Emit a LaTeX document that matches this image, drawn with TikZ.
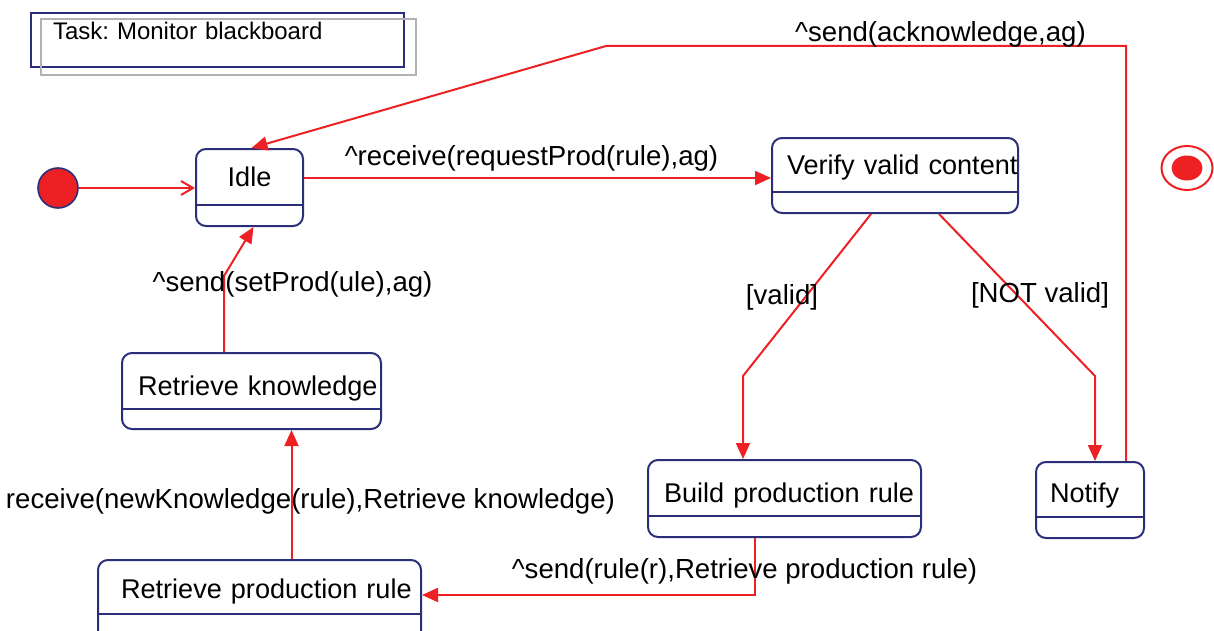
\documentclass[tikz,border=0pt]{standalone}
\usepackage{fontspec}
\setmainfont{Liberation Sans}
\usetikzlibrary{arrows.meta,shapes.geometric}
\frenchspacing

\definecolor{navy}{RGB}{43,47,122}
\definecolor{flowred}{RGB}{237,32,36}
\definecolor{shadowgray}{RGB}{178,178,178}

\newcommand{\labfont}{\fontsize{13.8}{16}\selectfont}
\newcommand{\statefont}{\fontsize{13.55}{16}\selectfont}

\tikzset{
  state/.style={draw=navy, line width=1pt, rounded corners=5pt, anchor=north west,
    inner ysep=0pt, inner xsep=8pt, align=left, font=\statefont},
  flow/.style={draw=flowred, line width=1pt, -{Triangle[length=8pt,width=7pt]}},
  lbl/.style={font=\labfont, inner sep=0pt, anchor=base},
}

\begin{document}
\begin{tikzpicture}[x=0.5pt, y=-0.5pt]
  \useasboundingbox (0,0) rectangle (1214,631);
  % task frame
  \node[draw=navy, line width=1pt, anchor=north west, inner ysep=0pt, inner xsep=11pt,
        text width=164.5pt, align=left, text height=13.5pt, text depth=13.5pt,
        font=\fontsize{12}{14}\selectfont] (task) at (30,12) {Task: Monitor blackboard};
  \draw[shadowgray, line width=1pt] ([xshift=5.5pt,yshift=-3.5pt]task.north west)
    rectangle ([xshift=5.5pt,yshift=-3.5pt]task.south east);
  %
  % pseudo states
  \node[circle, draw=navy, fill=flowred, line width=0.8pt, minimum size=20pt, inner sep=0pt] (init) at (58,188) {};
  \node[ellipse, draw=flowred, line width=1pt, minimum width=25.5pt, minimum height=22pt, inner sep=0pt] (final) at (1187,168) {};
  \node[ellipse, fill=flowred, minimum width=15.5pt, minimum height=12.5pt, inner sep=0pt] (finaldot) at (final) {};
  %
  % states
  \node[state, align=center, text width=37.5pt, text height=18.5pt, text depth=20pt] (idle) at (195,148) {Idle};
  \node[state, inner xsep=7.5pt, text width=108pt, text height=18pt, text depth=19.5pt] (verify) at (771,137) {\mbox{Verify valid content}};
  \node[state, text width=113.5pt, text height=21pt, text depth=17pt] (know) at (121,352) {\mbox{Retrieve knowledge}};
  \node[state, text width=120.5pt, text height=21pt, text depth=17.5pt] (build) at (647,459) {\mbox{Build production rule}};
  \node[state, inner xsep=7pt, text width=40pt, text height=20pt, text depth=18pt] (notify) at (1035,461) {Notify};
  \node[state, inner xsep=11.5pt, text width=138.5pt, text height=19pt, text depth=24pt] (prod) at (97,559) {\mbox{Retrieve production rule}};
  \foreach \n/\d in {idle/11.25, verify/11, know/10.5, build/11, notify/11.25, prod/16.5}
    \draw[navy, line width=1pt] ([yshift=\d pt]\n.south west) -- ([yshift=\d pt]\n.south east);
  %
  % bend points
  \coordinate (kvalid) at (743,376);
  \coordinate (knot) at (1095,376);
  \coordinate (kack) at (606,46);
  \coordinate (kset) at (224,276);
  %
  % transitions
  \draw[flow, -{Straight Barb[length=6pt,width=7pt]}] (init) -- (init -| idle.west);
  \draw[flow] (idle.east |- 0,178) -- (verify.west |- 0,178);
  \draw[flow] ([xshift=-12pt]verify.south) -- (kvalid) -- (kvalid |- build.north);
  \draw[flow] ([xshift=22pt]verify.south) -- (knot) -- (knot |- notify.north);
  \draw[flow] ([xshift=18pt]notify.north) -- ([xshift=18pt]notify.north |- kack) -- (kack) -- ([xshift=1pt]idle.north);
  \draw[flow] ([xshift=-15pt]build.south) -- ([xshift=-15pt]build.south |- 0,595) -- (prod.east |- 0,595);
  \draw[flow] ([xshift=16pt]prod.north) -- ([xshift=16pt]prod.north |- know.south);
  \draw[flow] (know.north -| kset) -- (kset) -- ([xshift=2pt]idle.south);
  %
  % labels
  \node[lbl] (lreq) at (531.5,165) {\textasciicircum receive(requestProd(rule),ag)};
  \node[lbl] (lvalid) at (782,304) {[valid]};
  \node[lbl] (lnot) at (1040,302) {[NOT valid]};
  \node[lbl] (lack) at (940.5,42) {\textasciicircum send(acknowledge,ag)};
  \node[lbl] (lrule) at (744.5,578) {\textasciicircum send(rule(r),Retrieve production rule)};
  \node[lbl] (lnew) at (310.5,508) {receive(newKnowledge(rule),Retrieve knowledge)};
  \node[lbl] (lset) at (292.5,291) {\textasciicircum send(setProd(ule),ag)};
\end{tikzpicture}
\end{document}
